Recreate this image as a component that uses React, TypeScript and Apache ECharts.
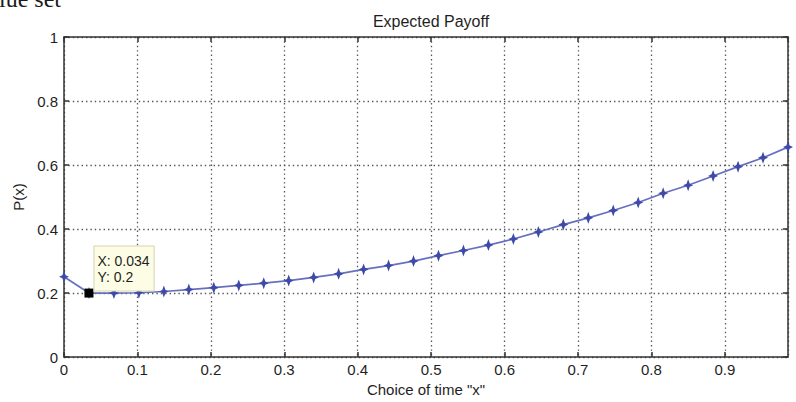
import React, { useEffect, useRef } from "react";
import * as echarts from "echarts";

const xValues = [0, 0.034, 0.068, 0.102, 0.136, 0.17, 0.204, 0.238, 0.272, 0.306, 0.34, 0.374, 0.408, 0.442, 0.476, 0.51, 0.544, 0.578, 0.612, 0.646, 0.68, 0.714, 0.748, 0.782, 0.816, 0.85, 0.884, 0.918, 0.952, 0.986];
const payoff = [0.251, 0.2, 0.2, 0.201, 0.205, 0.211, 0.217, 0.224, 0.231, 0.239, 0.249, 0.26, 0.274, 0.286, 0.3, 0.317, 0.333, 0.35, 0.369, 0.391, 0.414, 0.435, 0.458, 0.483, 0.512, 0.537, 0.566, 0.595, 0.623, 0.656];
const dataTip = { x: 0.034, y: 0.2 };
const titleText = "Expected Payoff";
const xAxisTitle = 'Choice of time "x"';
const yAxisTitle = "P(x)";
const fragmentText = "lue set";

const FONT = "'Liberation Sans', Arial, Helvetica, sans-serif";
const STAR = "path://M0,-10 L2.6,-2.6 L8,0 L2.6,2.6 L0,10 L-2.6,2.6 L-8,0 L-2.6,-2.6 Z";
const TEXT = "#1f1f1f";

const mkLine = () => ({ show: true, onZero: false, lineStyle: { color: "#333", width: 1.5 } });
const mkTick = () => ({ show: true, inside: true, length: 5, lineStyle: { color: "#333", width: 1.5 } });
const mkGrid = () => ({ show: true, lineStyle: { color: "#555", width: 1.3, type: [1.4, 3] as any } });

export default function App() {
  const ref = useRef<HTMLDivElement>(null);
  useEffect(() => {
    document.body.style.margin = "0";
    document.body.style.background = "#ffffff";
    const chart = echarts.init(ref.current!, null, { renderer: "svg" });
    chart.setOption({
      animation: false,
      backgroundColor: "#ffffff",
      title: {
        text: titleText,
        left: 426,
        textAlign: "center",
        top: 8,
        textStyle: { fontFamily: FONT, fontSize: 16, fontWeight: "normal", color: TEXT },
      },
      graphic: [
        {
          type: "text",
          left: -1,
          top: -13,
          style: { text: fragmentText, font: "24px 'Liberation Serif', 'Times New Roman', serif", fill: "#1a1a1a" },
        },
      ],
      grid: { left: 64, right: 8, top: 37, bottom: 38, show: false },
      xAxis: [
        {
          type: "value",
          min: 0,
          max: 0.986,
          interval: 0.1,
          position: "bottom",
          name: xAxisTitle,
          nameLocation: "middle",
          nameGap: 22,
          nameTextStyle: { fontFamily: FONT, fontSize: 15, color: TEXT },
          axisLine: mkLine(),
          axisTick: mkTick(),
          splitLine: mkGrid(),
          axisLabel: { fontFamily: FONT, fontSize: 15, color: TEXT, margin: 5, showMaxLabel: false },
        },
        {
          type: "value",
          min: 0,
          max: 0.986,
          interval: 0.1,
          position: "top",
          axisLine: mkLine(),
          axisTick: mkTick(),
          splitLine: { show: false },
          axisLabel: { show: false },
        },
      ],
      yAxis: [
        {
          type: "value",
          min: 0,
          max: 1,
          interval: 0.2,
          position: "left",
          name: yAxisTitle,
          nameLocation: "middle",
          nameGap: 35,
          nameTextStyle: { fontFamily: FONT, fontSize: 15, color: TEXT },
          axisLine: mkLine(),
          axisTick: mkTick(),
          splitLine: mkGrid(),
          axisLabel: { fontFamily: FONT, fontSize: 15, color: TEXT, margin: 6 },
        },
        {
          type: "value",
          min: 0,
          max: 1,
          interval: 0.2,
          position: "right",
          axisLine: mkLine(),
          axisTick: mkTick(),
          splitLine: { show: false },
          axisLabel: { show: false },
        },
      ],
      series: [
        {
          type: "line",
          data: xValues.map((x, i) => [x, payoff[i]]),
          lineStyle: { color: "#6770bf", width: 1.7 },
          itemStyle: { color: "#3e4aa8" },
          symbol: STAR,
          symbolSize: [10, 12],
          showSymbol: true,
          markPoint: {
            symbol: "rect",
            symbolSize: 9,
            itemStyle: { color: "#000" },
            data: [
              {
                coord: [dataTip.x, dataTip.y],
                label: {
                  show: true,
                  formatter: `X: ${dataTip.x}\nY: ${dataTip.y}`,
                  position: [10, -42],
                  fontFamily: FONT,
                  fontSize: 14,
                  lineHeight: 16,
                  color: TEXT,
                  backgroundColor: "#fdfde6",
                  borderColor: "#d9d3b0",
                  borderWidth: 1,
                  padding: [6, 4, 6, 3],
                },
              },
            ],
          },
        },
      ],
    });
    return () => chart.dispose();
  }, []);
  return <div ref={ref} style={{ width: 796, height: 402 }} />;
}
